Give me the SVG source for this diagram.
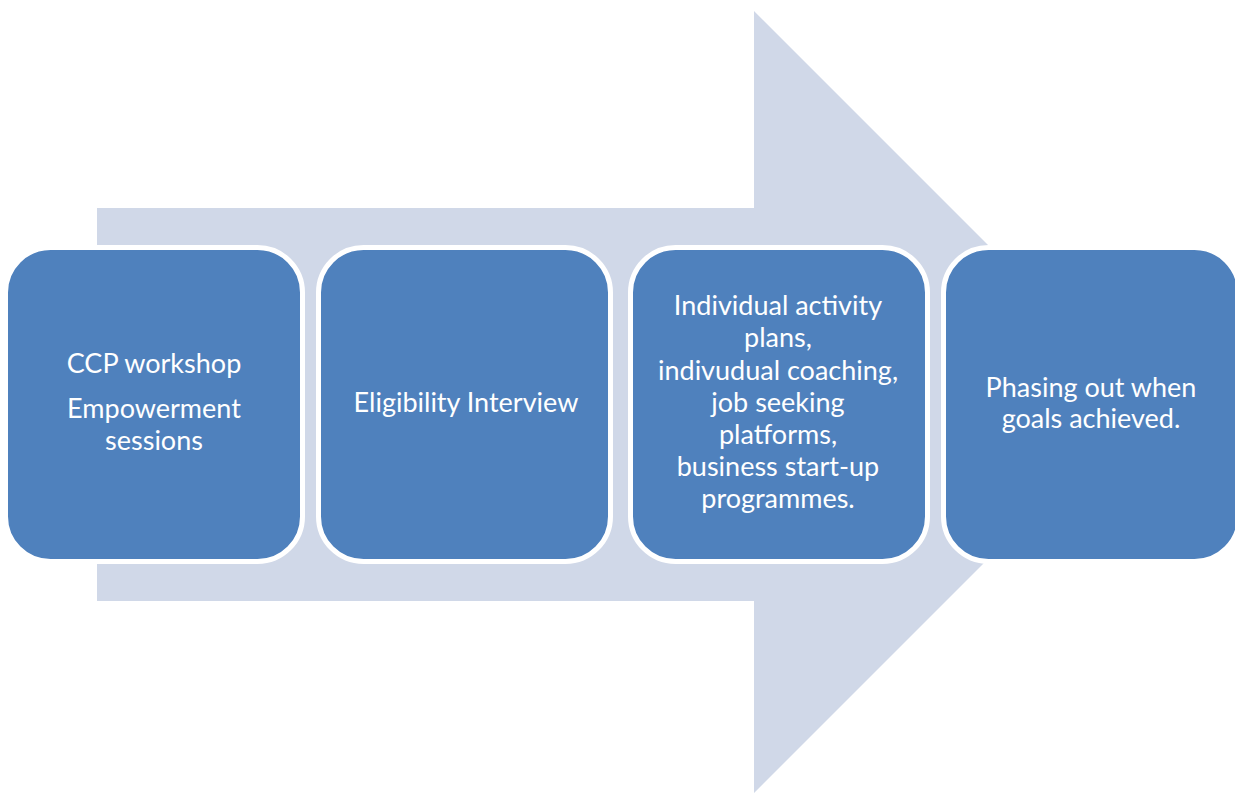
<svg xmlns="http://www.w3.org/2000/svg" width="1235" height="794" viewBox="0 0 1235 794">
  <style>
    .step { fill: #4F81BD; stroke: #FFFFFF; stroke-width: 5; }
    .label { fill: #FFFFFF; font-family: Lato, "Liberation Sans", sans-serif; font-size: 27px; text-anchor: middle; }
  </style>
  <rect width="1235" height="794" fill="#FFFFFF"/>
  <!-- background process arrow -->
  <g id="process-arrow">
    <polygon points="97,208 754,208 754,11 1145,402 754,793 754,601 97,601" fill="#D0D8E8"/>
  </g>
  <g id="step-1">
    <rect class="step" x="5.5" y="247.5" width="297" height="314" rx="45" ry="45"/>
    <text class="label" x="154" y="373">CCP workshop</text>
    <text class="label" x="154" y="418">Empowerment</text>
    <text class="label" x="154" y="450">sessions</text>
  </g>
  <g id="step-2">
    <rect class="step" x="318.5" y="247.5" width="292" height="314" rx="45" ry="45"/>
    <text class="label" x="466" y="412">Eligibility Interview</text>
  </g>
  <g id="step-3">
    <rect class="step" x="630.5" y="247.5" width="297" height="314" rx="45" ry="45"/>
    <text class="label" x="778" y="315">Individual activity</text>
    <text class="label" x="778" y="347">plans,</text>
    <text class="label" x="778" y="379.5">indivudual coaching,</text>
    <text class="label" x="778" y="411.5">job seeking</text>
    <text class="label" x="778" y="444">platforms,</text>
    <text class="label" x="778" y="476">business start-up</text>
    <text class="label" x="778" y="508">programmes.</text>
  </g>
  <g id="step-4">
    <rect class="step" x="943.5" y="247.5" width="296" height="314" rx="45" ry="45"/>
    <text class="label" x="1091" y="397">Phasing out when</text>
    <text class="label" x="1091" y="428">goals achieved.</text>
  </g>
  <g id="connectors"/>
</svg>
